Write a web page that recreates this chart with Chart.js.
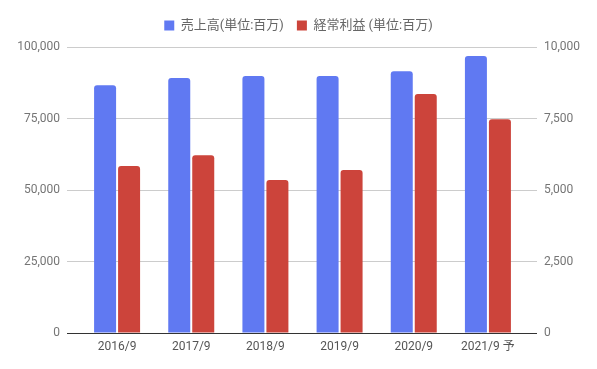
<!DOCTYPE html>
<html><head><meta charset="utf-8">
<script src="https://cdn.jsdelivr.net/npm/chart.js@4/dist/chart.umd.min.js"></script>
<style>html,body{margin:0;padding:0;background:#fff}#w{width:597px;height:369px}</style>
</head><body><div id="w"><canvas id="c"></canvas></div>
<script>
const categories = ['2016/9','2017/9','2018/9','2019/9','2020/9','2021/9 予'];
const salesLabel = '売上高(単位:百万)';
const profitLabel = '経常利益 (単位:百万)';
const sales = [86700, 89200, 89900, 89900, 91600, 96900];
const profit = [5840, 6220, 5350, 5700, 8360, 7480];
const leftTicks = [0, 25000, 50000, 75000, 100000];
const rightTicks = [0, 2500, 5000, 7500, 10000];

const fontFam = 'Roboto, "Noto Sans CJK JP", sans-serif';
const fmt = v => v.toLocaleString('en-US');
new Chart(document.getElementById('c'), {
  type: 'bar',
  data: {
    labels: categories,
    datasets: [
      {label: salesLabel, data: sales, backgroundColor: '#6079F2', yAxisID: 'y',
       borderRadius: {topLeft: 3, topRight: 3}, borderSkipped: 'start'},
      {label: profitLabel, data: profit, backgroundColor: '#CC443B', yAxisID: 'y1',
       borderRadius: {topLeft: 3, topRight: 3}, borderSkipped: 'start'}
    ]
  },
  options: {
    responsive: true, maintainAspectRatio: false, animation: false,
    layout: {padding: {top: 6, left: 0, right: 0, bottom: 0}},
    datasets: {bar: {categoryPercentage: 0.647, barPercentage: 0.917}},
    plugins: {
      tooltip: {enabled: false},
      legend: {
        position: 'top', weight: 3000,
        labels: {boxWidth: 10, boxHeight: 10, padding: 13, color: '#666',
                 font: {family: fontFam, size: 13}}
      },
      subtitle: {display: true, text: '', font: {size: 1}, padding: 2}
    },
    scales: {
      x: {
        grid: {display: false, drawTicks: false}, border: {display: false},
        ticks: {color: '#555', font: {family: fontFam, size: 12}, padding: 7, maxRotation: 0},
        afterFit: s => { s.height = 36; }
      },
      y: {
        position: 'left', min: 0, max: 100000,
        afterBuildTicks: s => { s.ticks = leftTicks.map(v => ({value: v})); },
        border: {display: false},
        grid: {color: c => c.tick && c.tick.value === 0 ? '#333' : '#ccc',
               tickColor: c => c.tick && c.tick.value === 0 ? '#333' : '#ccc',
               tickLength: 13, lineWidth: 1},
        ticks: {color: '#757575', font: {family: fontFam, size: 12}, padding: 7,
                callback: v => fmt(v)},
        afterFit: s => { s.width = 80; }
      },
      y1: {
        position: 'right', min: 0, max: 10000,
        afterBuildTicks: s => { s.ticks = rightTicks.map(v => ({value: v})); },
        border: {display: false},
        grid: {drawOnChartArea: false,
               tickColor: c => c.tick && c.tick.value === 0 ? '#333' : '#ccc',
               tickLength: 12},
        ticks: {color: '#757575', font: {family: fontFam, size: 12}, padding: 7,
                callback: v => fmt(v)},
        afterFit: s => { s.width = 72; }
      }
    }
  }
});
</script></body></html>
